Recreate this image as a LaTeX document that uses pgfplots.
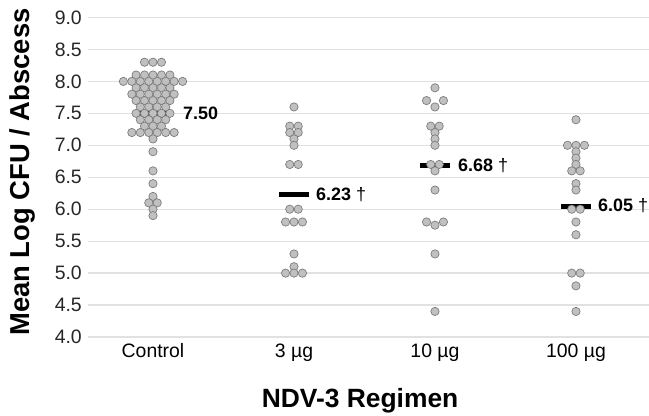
\documentclass[border=0pt]{standalone}
\usepackage{fontspec}
\setmainfont{Liberation Sans}
\usepackage{pgfplots}
\usepackage{pgfplotstable}
\pgfplotsset{compat=1.18}
\definecolor{gridgray}{RGB}{225,225,225}
\definecolor{dotfill}{RGB}{192,192,192}
\definecolor{dotedge}{RGB}{125,125,125}

% offsets (o) are in dot widths, values (v) in log CFU
\pgfplotstableread{
o v
-1 8.3
0 8.3
1 8.3
-2 8.1
-1 8.1
0 8.1
1 8.1
2 8.1
-3.5 8.0
-2.5 8.0
-1.5 8.0
-0.5 8.0
0.5 8.0
1.5 8.0
2.5 8.0
3.5 8.0
-2 7.9
-1 7.9
0 7.9
1 7.9
2 7.9
-2.5 7.8
-1.5 7.8
-0.5 7.8
0.5 7.8
1.5 7.8
2.5 7.8
-2 7.7
-1 7.7
0 7.7
1 7.7
2 7.7
-1.5 7.6
-0.5 7.6
0.5 7.6
1.5 7.6
-2 7.5
-1 7.5
0 7.5
1 7.5
2 7.5
-1.5 7.4
-0.5 7.4
0.5 7.4
1.5 7.4
-1 7.3
0 7.3
1 7.3
-2.5 7.2
-1.5 7.2
-0.5 7.2
0.5 7.2
1.5 7.2
2.5 7.2
0 7.1
0 6.9
0 6.6
0 6.4
0 6.2
-0.5 6.1
0.5 6.1
0 6.0
0 5.9
}\control

\pgfplotstableread{
o v
0 7.6
-0.5 7.3
0.5 7.3
-0.5 7.2
0.5 7.2
0 7.1
0 7.0
-0.5 6.7
0.5 6.7
-0.5 6.0
0.5 6.0
-1 5.8
0 5.8
1 5.8
0 5.3
0 5.1
-1 5.0
0 5.0
1 5.0
}\threeug

\pgfplotstableread{
o v
0 7.9
-1 7.7
1 7.7
0 7.6
-0.5 7.3
0.5 7.3
0 7.2
0 7.1
0 7.0
-0.5 6.7
0.5 6.7
0 6.6
0 6.3
-1 5.8
1 5.8
0 5.75
0 5.3
0 4.4
}\tenug

\pgfplotstableread{
o v
0 7.4
-1 7.0
0 7.0
1 7.0
0 6.9
0 6.8
0 6.7
-0.5 6.6
0.5 6.6
0 6.4
0 6.3
-0.5 6.0
0.5 6.0
0 5.8
0 5.6
-0.5 5.0
0.5 5.0
0 4.8
0 4.4
}\hundredug

\begin{document}
\begin{tikzpicture}
\begin{axis}[
  at={(88bp,-337bp)}, anchor=south west,
  scale only axis, width=561bp, height=319.5bp,
  xmin=-0.461, xmax=3.518, ymin=4, ymax=9,
  clip=false,
  axis line style={draw=none},
  major tick length=0pt,
  ytick={4,4.5,5,5.5,6,6.5,7,7.5,8,8.5,9},
  yticklabels={4.0,4.5,5.0,5.5,6.0,6.5,7.0,7.5,8.0,8.5,9.0},
  xtick={0,1,2,3},
  xticklabels={Control,3 µg,10 µg,100 µg},
  ymajorgrids,
  grid style={gridgray, line width=1.3bp},
  yticklabel style={font=\fontsize{19.5}{21}\selectfont, text=black!85,
    anchor=east, inner sep=0pt, xshift=-6bp},
  xticklabel style={font=\fontsize{19.5}{21}\selectfont, text=black,
    anchor=base, inner sep=0pt, yshift=-20bp},
  every axis x label/.style={at={(axis description cs:0.485,-0.2222)},
    anchor=base, font=\fontsize{26.5}{28}\selectfont\bfseries},
  every axis y label/.style={at={(axis description cs:-0.1034,0.516)},
    rotate=90, anchor=base, font=\fontsize{27.5}{29}\selectfont\bfseries},
  xlabel={NDV-3 Regimen},
  ylabel={Mean Log CFU / Abscess},
]
\pgfplotsset{dots/.style={only marks, mark=*, mark size=4.15bp,
  mark options={fill=dotfill, draw=dotedge, line width=0.7bp}}}

\addplot[dots] table[x expr=\thisrow{o}*0.06, y=v] {\control};
\addplot[dots] table[x expr=1+\thisrow{o}*0.06, y=v] {\threeug};
\addplot[dots] table[x expr=2+\thisrow{o}*0.06, y=v] {\tenug};
\addplot[dots] table[x expr=3+\thisrow{o}*0.06, y=v] {\hundredug};

% group means
\addplot[black, line width=5bp] coordinates {(-0.107,7.50) (0.107,7.50)};
\addplot[black, line width=5bp] coordinates {(0.893,6.23) (1.107,6.23)};
\addplot[black, line width=5bp] coordinates {(1.893,6.68) (2.107,6.68)};
\addplot[black, line width=5bp] coordinates {(2.893,6.05) (3.107,6.05)};

\tikzset{meanlbl/.style={anchor=west, inner sep=0pt,
  font=\fontsize{18}{20}\selectfont\bfseries}}
\node[meanlbl] at (axis cs:0.213,7.50) {7.50};
\node[meanlbl] at (axis cs:1.156,6.23) {6.23 {\mdseries †}};
\node[meanlbl] at (axis cs:2.163,6.68) {6.68 {\mdseries †}};
\node[meanlbl] at (axis cs:3.156,6.05) {6.05 {\mdseries †}};
\end{axis}
\pgfresetboundingbox
\path[use as bounding box] (0,0) rectangle (649bp,-416bp);
\end{tikzpicture}
\end{document}
